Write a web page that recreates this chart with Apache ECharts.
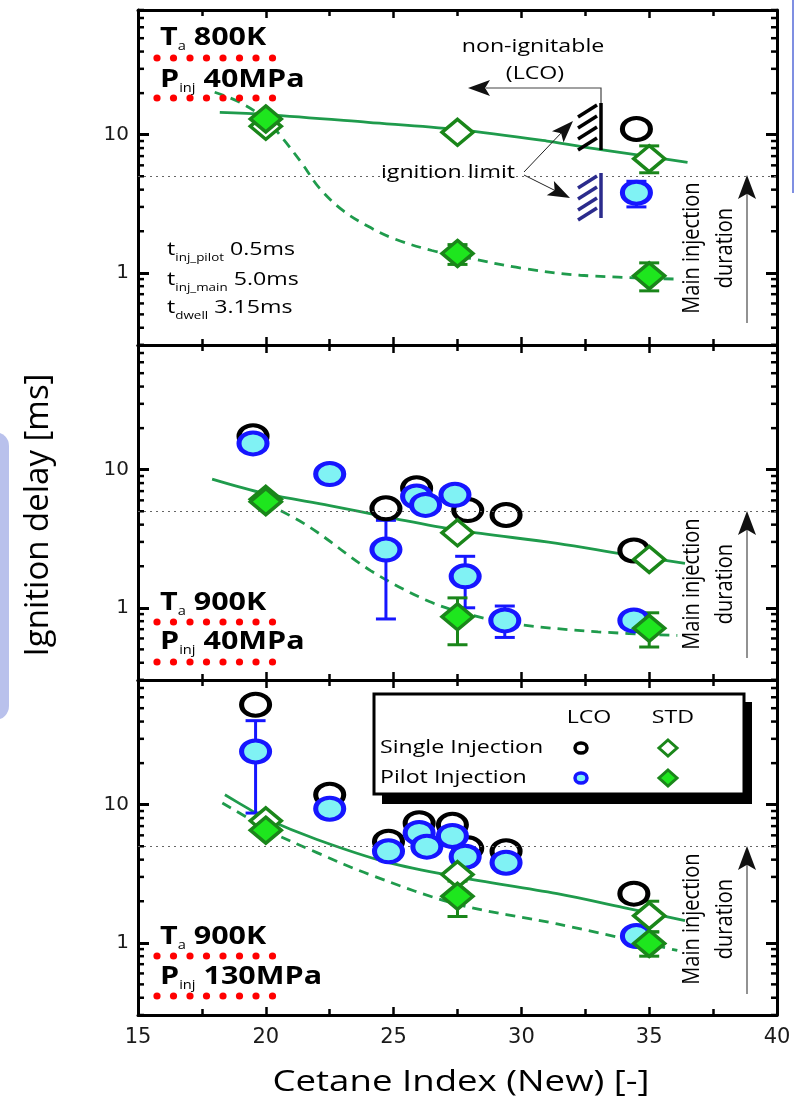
<!DOCTYPE html>
<html>
<head>
<meta charset="utf-8">
<script src="https://cdn.jsdelivr.net/npm/echarts@6/dist/echarts.min.js"></script>
<style>
  html, body { margin: 0; padding: 0; background: #ffffff; }
  #chart { width: 800px; height: 1100px; }
</style>
</head>
<body>
<div id="chart"></div>
<script>
// ---- axis settings ----
const cetaneMin = 15, cetaneMax = 40, cetaneStep = 5;
const delayMin = 0.3, delayMax = 80;
const delayLabels = [1, 10];
const delayMinorTicks = [0.3, 0.4, 0.5, 0.6, 0.7, 0.8, 0.9, 2, 3, 4, 5, 6, 7, 8, 9, 20, 30, 40, 50, 60, 70, 80];
const mainInjectionLimit = 5;

// ---- Ta 800K, Pinj 40MPa ----
const lcoSingle800 = [[34.5, 11.0]];
const lcoPilot800 = [[34.5, 3.8]];
const stdSingle800 = [[20, 11.5], [27.5, 10.4], [35, 6.7]];
const stdPilot800 = [[20, 13.0], [27.5, 1.38], [35, 0.95]];
const lcoPilotErr800 = [[34.5, 3.0, 4.6]];
const stdErr800 = [[35, 5.3, 8.3], [35, 0.74, 1.18], [27.5, 1.15, 1.6]];
const fitSingle800 = [[18.2, 14.5], [20, 14.0], [24, 12.3], [27.5, 10.9], [31, 9.0], [33.1, 7.8], [35, 6.95], [36.5, 6.3]];
const fitPilot800 = [[18.0, 20.3], [19.0, 17.1], [20.0, 12.9], [20.7, 9.2], [21.4, 6.25], [22.1, 4.1], [23.0, 2.84], [24.0, 2.17], [25.0, 1.77], [26.5, 1.45], [28.0, 1.27], [30.0, 1.08], [32.3, 0.96], [36.1, 0.9]];

// ---- Ta 900K, Pinj 40MPa ----
const lcoSingle900 = [[19.5, 17.5], [24.7, 5.25], [25.9, 7.35], [27.9, 5.1], [29.4, 4.7], [34.4, 2.6]];
const lcoPilot900 = [[19.5, 15.5], [22.5, 9.3], [24.7, 2.64], [25.9, 6.4], [26.25, 5.56], [27.4, 6.58], [27.8, 1.69], [29.35, 0.81], [34.4, 0.81]];
const stdSingle900 = [[20, 6.1], [27.5, 3.49], [35, 2.24]];
const stdPilot900 = [[20, 5.87], [27.5, 0.86], [35, 0.71]];
const lcoPilotErr900 = [[24.7, 0.83, 4.3], [27.8, 1.0, 2.36], [29.35, 0.61, 1.03]];
const stdErr900 = [[27.5, 0.54, 1.18], [35, 0.52, 0.92]];
const fitSingle900 = [[17.9, 8.55], [20, 6.7], [22.5, 5.5], [24.7, 4.56], [27.5, 3.65], [31.4, 2.93], [34, 2.45], [36.4, 2.1]];
const fitPilot900 = [[20, 5.75], [21.7, 3.86], [24.1, 1.86], [26.4, 1.11], [28.1, 0.88], [29.8, 0.76], [33, 0.67], [36.1, 0.63]];

// ---- Ta 900K, Pinj 130MPa ----
const lcoSingle900h = [[19.6, 53], [22.5, 11.8], [24.8, 5.4], [26.0, 7.35], [27.3, 7.15], [27.9, 4.83], [29.4, 4.6], [34.4, 2.27]];
const lcoPilot900h = [[19.6, 24.3], [22.5, 9.35], [24.8, 4.6], [26.0, 6.25], [26.3, 4.97], [27.3, 5.94], [27.8, 4.2], [29.4, 3.8], [34.5, 1.12]];
const stdSingle900h = [[20, 7.64], [27.5, 3.12], [35, 1.57]];
const stdPilot900h = [[20, 6.54], [27.5, 2.17], [35, 0.99]];
const lcoPilotErr900h = [[19.6, 8.7, 40.6]];
const stdErr900h = [[27.5, 1.55, 2.8], [35, 1.2, 2.0], [35, 0.8, 1.2]];
const fitSingle900h = [[18.4, 11.8], [19.3, 9.4], [20, 7.9], [22, 5.6], [24.7, 3.85], [27.5, 3.0], [31.4, 2.27], [34, 1.8], [36.4, 1.45]];
const fitPilot900h = [[18.3, 10.3], [19.4, 7.8], [20, 6.6], [22, 4.5], [24.1, 3.1], [27.5, 1.9], [31.4, 1.37], [36.1, 0.88]];

// ---- styles ----
const FONT = 'Open Sans';
const TICK_FONT = 'DejaVu Sans';
const WIDE = 1.22;               // horizontal stretch of the lettering
const GREEN_LINE = '#1f9b4c';
const GREEN_EDGE = '#1a861a';
const GREEN_FILL = '#1ee61e';
const BLUE_EDGE = '#1616ff';
const BLUE_FILL = '#80f2f4';
const NAVY = '#2b2b8c';
const ELLIPSE = 'path://M0 10A10 10 0 1 1 20 10A10 10 0 1 1 0 10Z';

const panels = [
  { lcoSingle: lcoSingle800, lcoPilot: lcoPilot800, stdSingle: stdSingle800, stdPilot: stdPilot800,
    lcoErr: lcoPilotErr800, stdErr: stdErr800, fitSingle: fitSingle800, fitPilot: fitPilot800 },
  { lcoSingle: lcoSingle900, lcoPilot: lcoPilot900, stdSingle: stdSingle900, stdPilot: stdPilot900,
    lcoErr: lcoPilotErr900, stdErr: stdErr900, fitSingle: fitSingle900, fitPilot: fitPilot900 },
  { lcoSingle: lcoSingle900h, lcoPilot: lcoPilot900h, stdSingle: stdSingle900h, stdPilot: stdPilot900h,
    lcoErr: lcoPilotErr900h, stdErr: stdErr900h, fitSingle: fitSingle900h, fitPilot: fitPilot900h }
];

const gridTops = [10, 345, 680];
const gridHeight = 335;

const chart = echarts.init(document.getElementById('chart'), null, { renderer: 'canvas' });

const grids = [], xAxes = [], yAxes = [], series = [];

function xAxisDef(i, pos) {
  return {
    gridIndex: i, type: 'value', position: pos,
    min: cetaneMin, max: cetaneMax, interval: cetaneStep,
    axisLine: { show: true, onZero: false, lineStyle: { color: '#000', width: 3 } },
    axisTick: { show: true, inside: true, length: 8, lineStyle: { color: '#000', width: 2.5 } },
    minorTick: { show: true, splitNumber: 2, length: 6, lineStyle: { color: '#000', width: 2.5 } },
    axisLabel: { show: pos === 'bottom' && i === 2, fontSize: 21, color: '#1a1a1a', margin: 12, fontFamily: TICK_FONT },
    splitLine: { show: false }, minorSplitLine: { show: false }
  };
}
function yAxisDef(i, pos) {
  return {
    gridIndex: i, type: 'log', logBase: 10, position: pos,
    min: delayMin, max: delayMax,
    axisLine: { show: true, onZero: false, lineStyle: { color: '#000', width: 3 } },
    axisTick: { show: true, inside: true, length: 11, lineStyle: { color: '#000', width: 3 } },
    axisLabel: {
      show: pos === 'left', fontSize: 20, color: '#1a1a1a', margin: 9, fontFamily: TICK_FONT,
      showMinLabel: false, showMaxLabel: false,
      formatter: v => (delayLabels.indexOf(Math.round(v * 1000) / 1000) >= 0 ? String(Math.round(v)) : '')
    },
    splitLine: { show: false }
  };
}

// error bar: vertical stem with caps
function errorBarRender(color, capHalf) {
  return function (params, api) {
    const x = api.value(0);
    const lo = api.coord([x, api.value(1)]);
    const hi = api.coord([x, api.value(2)]);
    const st = { stroke: color, lineWidth: 3 };
    return {
      type: 'group', children: [
        { type: 'line', shape: { x1: lo[0], y1: lo[1], x2: hi[0], y2: hi[1] }, style: st },
        { type: 'line', shape: { x1: lo[0] - capHalf, y1: lo[1], x2: lo[0] + capHalf, y2: lo[1] }, style: st },
        { type: 'line', shape: { x1: hi[0] - capHalf, y1: hi[1], x2: hi[0] + capHalf, y2: hi[1] }, style: st }
      ]
    };
  };
}

panels.forEach((p, i) => {
  grids.push({ left: 138, right: 23, top: gridTops[i], height: gridHeight, containLabel: false });
  xAxes.push(xAxisDef(i, 'bottom'), xAxisDef(i, 'top'));
  yAxes.push(yAxisDef(i, 'left'), yAxisDef(i, 'right'));
  const xi = i * 2, yi = i * 2;

  // minor log ticks on both vertical frame sides
  series.push({
    type: 'custom', xAxisIndex: xi, yAxisIndex: yi, silent: true, z: 1,
    data: delayMinorTicks.map(v => [cetaneMin, v]),
    renderItem: (params, api) => {
      const v = api.value(1);
      const l = api.coord([cetaneMin, v]);
      const r = api.coord([cetaneMax, v]);
      const st = { stroke: '#000', lineWidth: 2.5 };
      return {
        type: 'group', children: [
          { type: 'line', shape: { x1: l[0], y1: l[1], x2: l[0] + 6, y2: l[1] }, style: st },
          { type: 'line', shape: { x1: r[0], y1: r[1], x2: r[0] - 6, y2: r[1] }, style: st }
        ]
      };
    }
  });

  // fitted trends
  series.push({
    type: 'line', xAxisIndex: xi, yAxisIndex: yi, data: p.fitSingle, smooth: 0.35,
    showSymbol: false, silent: true, z: 2,
    lineStyle: { color: GREEN_LINE, width: 2.8, type: 'solid' },
    markLine: {
      silent: true, symbol: ['none', 'none'], label: { show: false },
      lineStyle: { color: '#666', width: 1.2, type: [2, 4] },
      data: [{ yAxis: mainInjectionLimit }]
    }
  });
  series.push({
    type: 'line', xAxisIndex: xi, yAxisIndex: yi, data: p.fitPilot, smooth: 0.35,
    showSymbol: false, silent: true, z: 2,
    lineStyle: { color: GREEN_LINE, width: 2.8, type: [10, 7] }
  });

  // error bars
  series.push({
    type: 'custom', xAxisIndex: xi, yAxisIndex: yi, silent: true, z: 3,
    encode: { x: 0, y: [1, 2] }, data: p.lcoErr, renderItem: errorBarRender(BLUE_EDGE, 10)
  });
  series.push({
    type: 'custom', xAxisIndex: xi, yAxisIndex: yi, silent: true, z: 3,
    encode: { x: 0, y: [1, 2] }, data: p.stdErr, renderItem: errorBarRender(GREEN_EDGE, 10)
  });

  // measured ignition delays
  series.push({
    name: 'LCO Single Injection', type: 'scatter', xAxisIndex: xi, yAxisIndex: yi, z: 4,
    data: p.lcoSingle, symbol: ELLIPSE, symbolSize: [28, 22],
    itemStyle: { color: '#ffffff', borderColor: '#000', borderWidth: 4.5, opacity: 1 }
  });
  series.push({
    name: 'LCO Pilot Injection', type: 'scatter', xAxisIndex: xi, yAxisIndex: yi, z: 5,
    data: p.lcoPilot, symbol: ELLIPSE, symbolSize: [28, 22],
    itemStyle: { color: BLUE_FILL, borderColor: BLUE_EDGE, borderWidth: 4.5, opacity: 1 }
  });
  series.push({
    name: 'STD Single Injection', type: 'scatter', xAxisIndex: xi, yAxisIndex: yi, z: 6,
    data: p.stdSingle, symbol: 'diamond', symbolSize: [31, 26],
    itemStyle: { color: '#ffffff', borderColor: GREEN_EDGE, borderWidth: 3.5, opacity: 1 }
  });
  series.push({
    name: 'STD Pilot Injection', type: 'scatter', xAxisIndex: xi, yAxisIndex: yi, z: 7,
    data: p.stdPilot, symbol: 'diamond', symbolSize: [31, 26],
    itemStyle: { color: GREEN_FILL, borderColor: GREEN_EDGE, borderWidth: 3.5, opacity: 1 }
  });
});

// ---- annotation helpers ----
function arrowHead(tip, from, len, half, fill) {
  const dx = tip[0] - from[0], dy = tip[1] - from[1];
  const d = Math.sqrt(dx * dx + dy * dy);
  const ux = dx / d, uy = dy / d, nx = -uy, ny = ux;
  const bx = tip[0] - ux * len, by = tip[1] - uy * len;
  const mx = tip[0] - ux * len * 0.78, my = tip[1] - uy * len * 0.78;
  return {
    type: 'polygon', z: 50,
    shape: { points: [tip, [bx + nx * half, by + ny * half], [mx, my], [bx - nx * half, by - ny * half]] },
    style: { fill: fill || '#111' }
  };
}
function redDots(y) {
  const out = [];
  for (let k = 0; k < 8; k++) {
    out.push({ type: 'circle', z: 50, shape: { cx: 157 + k * 16.5, cy: y, r: 3.6 }, style: { fill: '#ff0000' } });
  }
  return out;
}
function plainText(x, y, text, size, align, extra) {
  return Object.assign({
    type: 'text', z: 50, x: x, y: y, scaleX: WIDE,
    style: { text: text, fontSize: size, fontFamily: FONT, fill: '#000', align: align || 'center', verticalAlign: 'middle' }
  }, extra || {});
}
function condText(x, y, sym, sub, rest) {
  return {
    type: 'text', z: 50, x: x, y: y, scaleX: WIDE,
    style: {
      text: '{m|' + sym + '}{s|' + sub + '}{m| ' + rest + '}',
      verticalAlign: 'middle',
      rich: {
        m: { fontSize: 25, fontWeight: 'bold', fontFamily: FONT, fill: '#000', lineHeight: 30, verticalAlign: 'middle' },
        s: { fontSize: 12, fontFamily: FONT, fill: '#000', lineHeight: 30, verticalAlign: 'bottom' }
      }
    }
  };
}
function timingText(x, y, sub, rest) {
  return {
    type: 'text', z: 50, x: x, y: y, scaleX: WIDE,
    style: {
      text: '{m|t}{s|' + sub + '}{m| ' + rest + '}',
      verticalAlign: 'middle',
      rich: {
        m: { fontSize: 19, fontFamily: FONT, fill: '#000', lineHeight: 26, verticalAlign: 'middle' },
        s: { fontSize: 11, fontFamily: FONT, fill: '#000', lineHeight: 26, verticalAlign: 'bottom' }
      }
    }
  };
}
function durationNote(cx, cy, tipY, baseY) {
  return [
    {
      type: 'text', z: 50, x: cx, y: cy, rotation: Math.PI / 2, scaleY: WIDE,
      style: { text: 'Main injection\nduration', fontSize: 20, fontFamily: FONT, fill: '#000',
        align: 'center', verticalAlign: 'middle', lineHeight: 27 }
    },
    { type: 'line', z: 49, shape: { x1: 747, y1: baseY, x2: 747, y2: tipY + 16 }, style: { stroke: '#777', lineWidth: 1.6 } },
    arrowHead([747, tipY], [747, baseY], 24, 9, '#111')
  ];
}
function hatch(yTop, yBot, starts, color) {
  const items = [{ type: 'line', z: 50, shape: { x1: 601, y1: yTop, x2: 601, y2: yBot }, style: { stroke: color, lineWidth: 3.5 } }];
  starts.forEach(y => {
    items.push({ type: 'line', z: 50, shape: { x1: 578, y1: y + 12, x2: 597, y2: y }, style: { stroke: color, lineWidth: 3.5 } });
  });
  return items;
}

const legendItems = [
  { type: 'rect', z: 60, shape: { x: 382, y: 702, width: 370, height: 102 }, style: { fill: '#000' } },
  { type: 'rect', z: 61, shape: { x: 374, y: 694, width: 370, height: 100 }, style: { fill: '#fff', stroke: '#000', lineWidth: 3 } },
  Object.assign(plainText(589, 718, 'LCO', 19, 'center'), { z: 62 }),
  Object.assign(plainText(673, 718, 'STD', 19, 'center'), { z: 62 }),
  Object.assign(plainText(380, 748, 'Single Injection', 19, 'left'), { z: 62 }),
  Object.assign(plainText(380, 778, 'Pilot Injection', 19, 'left'), { z: 62 }),
  { type: 'ellipse', z: 62, shape: { cx: 581, cy: 748, rx: 6, ry: 5 }, style: { fill: '#fff', stroke: '#000', lineWidth: 3.5 } },
  { type: 'ellipse', z: 62, shape: { cx: 581, cy: 778, rx: 6, ry: 5 }, style: { fill: BLUE_FILL, stroke: BLUE_EDGE, lineWidth: 3.5 } },
  { type: 'polygon', z: 62, shape: { points: [[668, 740], [677, 748], [668, 756], [659, 748]] }, style: { fill: '#fff', stroke: GREEN_EDGE, lineWidth: 3 } },
  { type: 'polygon', z: 62, shape: { points: [[668, 770], [677, 778], [668, 786], [659, 778]] }, style: { fill: GREEN_FILL, stroke: GREEN_EDGE, lineWidth: 3 } }
];

const graphics = [
  // slide decorations
  { type: 'rect', z: 0, shape: { x: -20, y: 432, width: 29, height: 288, r: 14 }, style: { fill: '#b9c1ec' } },
  { type: 'line', z: 0, shape: { x1: 793, y1: 0, x2: 793, y2: 193 }, style: { stroke: '#7f8fe2', lineWidth: 2 } },

  // axis titles
  { type: 'text', z: 50, x: 39, y: 515, rotation: Math.PI / 2,
    style: { text: 'Ignition delay [ms]', fontSize: 33, fontFamily: FONT, fill: '#000', align: 'center', verticalAlign: 'middle' } },
  plainText(461, 1082, 'Cetane Index (New) [-]', 30, 'center'),

  // operating conditions
  condText(160, 38, 'T', 'a', '800K'), ...redDots(58),
  condText(160, 80, 'P', 'inj', '40MPa'), ...redDots(98),
  condText(160, 603, 'T', 'a', '900K'), ...redDots(622),
  condText(160, 642, 'P', 'inj', '40MPa'), ...redDots(662),
  condText(160, 937, 'T', 'a', '900K'), ...redDots(956),
  condText(160, 977, 'P', 'inj', '130MPa'), ...redDots(996),

  // injection timing
  timingText(167, 250, 'inj_pilot', '0.5ms'),
  timingText(167, 280, 'inj_main', '5.0ms'),
  timingText(167, 308, 'dwell', '3.15ms'),

  // ignitability notes
  plainText(533, 47, 'non-ignitable', 19, 'center'),
  plainText(535, 74, '(LCO)', 19, 'center'),
  { type: 'polyline', z: 50, shape: { points: [[601, 103], [601, 88], [486, 88]] }, style: { stroke: '#444', lineWidth: 1.2, fill: null } },
  arrowHead([468, 88], [601, 88], 22, 8),
  ...hatch(103, 150, [105, 116, 127, 138], '#000'),
  ...hatch(173, 218, [176, 187, 198, 208], NAVY),
  plainText(448, 173, 'ignition limit', 19, 'center'),
  { type: 'line', z: 50, shape: { x1: 524, y1: 172, x2: 563, y2: 131 }, style: { stroke: '#222', lineWidth: 1 } },
  arrowHead([573, 121], [524, 172], 22, 8),
  { type: 'line', z: 50, shape: { x1: 524, y1: 175, x2: 556, y2: 191 }, style: { stroke: '#222', lineWidth: 1 } },
  arrowHead([570, 198], [524, 175], 22, 8),

  // main injection duration marks
  ...durationNote(709, 248, 175, 323),
  ...durationNote(709, 584, 511, 658),
  ...durationNote(709, 919, 846, 994),

  // legend
  ...legendItems
];

chart.setOption({
  animation: false,
  backgroundColor: '#ffffff',
  textStyle: { fontFamily: FONT },
  grid: grids,
  xAxis: xAxes,
  yAxis: yAxes,
  series: series,
  graphic: { elements: graphics }
});
</script>
</body>
</html>
